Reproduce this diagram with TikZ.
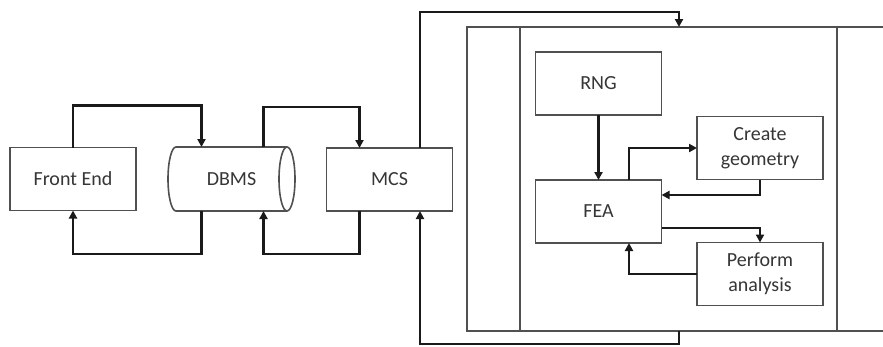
\documentclass[tikz,border=0pt]{standalone}
\usepackage{fontspec}
\setmainfont{Carlito}
\usetikzlibrary{arrows.meta}
\definecolor{boxc}{HTML}{505050}
\definecolor{txtc}{HTML}{363636}
\definecolor{conc}{HTML}{1A1A1A}
\begin{document}
\begin{tikzpicture}[x=1pt,y=-1pt,
  block/.style={draw=boxc,line width=1.6pt,minimum width=126pt,minimum height=63pt,inner sep=0pt,outer sep=0pt,
    text=txtc,font=\fontsize{20}{25}\selectfont,align=center},
  dbtext/.style={block,draw=none,minimum width=127pt,minimum height=64pt},
  conn/.style={draw=conc,line width=2.2pt,-{Triangle[length=8pt,width=8pt]}},
  frame/.style={draw=boxc,line width=1.6pt}]
\useasboundingbox (0,0) rectangle (883,346);
\fill[white] (0,0) rectangle (883,346);
% nodes
\node[block] (fe) at (73,179) {Front End};
\node[dbtext] (dbms) at (231.5,179) {};
\draw[frame,fill=white] ([xshift=8pt]dbms.north west) arc[start angle=-90,end angle=-270,x radius=8,y radius=32]
  -- ([xshift=-8pt]dbms.south east) arc[start angle=90,end angle=-90,x radius=8,y radius=32] -- cycle;
\draw[frame] ([xshift=-8pt]dbms.north east) arc[start angle=-90,end angle=-270,x radius=8,y radius=32];
\node[block,draw=none] at (dbms.center) {DBMS};
\node[block] (mcs) at (389.5,179.5) {MCS};
\node[block] (rng) at (598.5,83.5) {RNG};
\node[block] (fea) at (598.5,211.5) {FEA};
\node[block] (cg) at (760,148) {Create\\geometry};
\node[block] (pa) at (760,274) {Perform\\analysis};
% outer system frame
\draw[frame] (890,27) -- (467,27) -- (467,331) -- (890,331);
\draw[frame] (520,27) -- (520,331);
\draw[frame] (837,27) -- (837,331);
\coordinate (systop) at (679,27);
\coordinate (sysbot) at (679,331);
% connectors left
\draw[conn] (fe.north) -- ++(0,-42) -| ([xshift=-30pt]dbms.north);
\draw[conn] ([xshift=-30pt]dbms.south) -- ++(0,43) -| (fe.south);
\draw[conn] ([xshift=32pt]dbms.north) -- ++(0,-40) -| ([xshift=-30pt]mcs.north);
\draw[conn] ([xshift=-30pt]mcs.south) -- ++(0,43) -| ([xshift=32pt]dbms.south);
% outer loop
\draw[conn] ([xshift=30.5pt]mcs.north) |- ([yshift=15pt]systop) -- (systop);
\draw[conn] (sysbot) -- ++(0,13) -| ([xshift=30.5pt]mcs.south);
% inner
\draw[conn] (rng.south) -- (fea.north);
\draw[conn] ([xshift=30.5pt]fea.north) |- (cg.west);
\draw[conn] (cg.south) |- ([yshift=16.5pt]fea.east);
\draw[conn] ([yshift=-16.5pt]fea.east) -| (pa.north);
\draw[conn] (pa.west) -| ([xshift=30.5pt]fea.south);
\end{tikzpicture}
\end{document}
